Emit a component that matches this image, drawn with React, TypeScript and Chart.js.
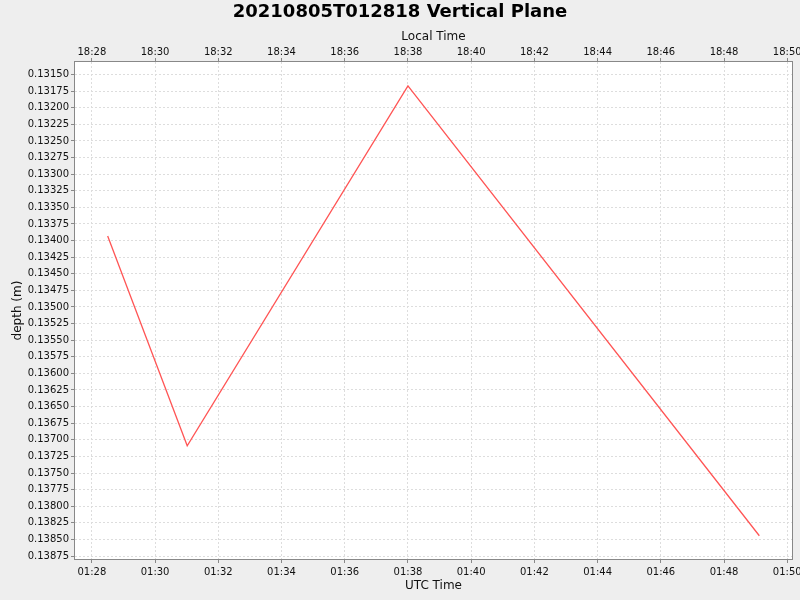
import { useEffect, useRef } from 'react';
import { Chart, registerables } from 'chart.js';

Chart.register(...registerables);

const chartTitle = '20210805T012818 Vertical Plane';
const utcTimes = ['01:28:30', '01:31:01', '01:38:00', '01:49:07'];
const depths = [0.13393, 0.13709, 0.13167, 0.138445];
const utcTicks = ['01:28', '01:30', '01:32', '01:34', '01:36', '01:38', '01:40', '01:42', '01:44', '01:46', '01:48', '01:50'];
const localTicks = ['18:28', '18:30', '18:32', '18:34', '18:36', '18:38', '18:40', '18:42', '18:44', '18:46', '18:48', '18:50'];
const depthTicks = [
  0.1315, 0.13175, 0.132, 0.13225, 0.1325, 0.13275, 0.133, 0.13325, 0.1335, 0.13375,
  0.134, 0.13425, 0.1345, 0.13475, 0.135, 0.13525, 0.1355, 0.13575, 0.136, 0.13625,
  0.1365, 0.13675, 0.137, 0.13725, 0.1375, 0.13775, 0.138, 0.13825, 0.1385, 0.13875,
];
const xMinTime = '01:27:28';
const xMaxTime = '01:50:09';
const yMin = 0.131311;
const yMax = 0.138795;

function toSec(t: string): number {
  const p = t.split(':').map(Number);
  return p[0] * 3600 + p[1] * 60 + (p[2] || 0);
}

const FONT = '"DejaVu Sans", sans-serif';

export default function App() {
  const ref = useRef<HTMLCanvasElement | null>(null);

  useEffect(() => {
    document.body.style.margin = '0';
    const canvas = ref.current;
    if (!canvas) return;

    const tickPos = utcTicks.map(toSec);

    const bgPlugin = {
      id: 'bgPlugin',
      beforeDraw(chart: any) {
        const { ctx, chartArea } = chart;
        ctx.save();
        ctx.fillStyle = '#eeeeee';
        ctx.fillRect(0, 0, chart.width, chart.height);
        ctx.fillStyle = '#ffffff';
        ctx.fillRect(chartArea.left, chartArea.top, chartArea.right - chartArea.left, chartArea.bottom - chartArea.top);
        ctx.restore();
      },
      afterDraw(chart: any) {
        const { ctx, chartArea } = chart;
        ctx.save();
        ctx.strokeStyle = '#888888';
        ctx.lineWidth = 1;
        ctx.strokeRect(chartArea.left - 0.5, chartArea.top - 0.5, chartArea.right - chartArea.left + 1, chartArea.bottom - chartArea.top + 1);
        ctx.fillStyle = '#000000';
        ctx.font = 'bold 18px ' + FONT;
        ctx.textAlign = 'center';
        ctx.textBaseline = 'middle';
        ctx.fillText(chartTitle, 400, 12);
        ctx.restore();
      },
    };

    const gridCommon = {
      color: '#dddddd',
      lineWidth: 1,
      drawTicks: true,
      tickLength: 4,
      tickColor: '#888888',
      tickBorderDash: [],
    };

    const zeroPad = (s: any) => {
      s.paddingLeft = 0;
      s.paddingRight = 0;
      s.paddingTop = 0;
      s.paddingBottom = 0;
    };

    const chart = new Chart(canvas, {
      type: 'line',
      data: {
        datasets: [
          {
            data: utcTimes.map((t, i) => ({ x: toSec(t), y: depths[i] })),
            borderColor: '#ff5555',
            borderWidth: 1.3,
            pointRadius: 0,
            fill: false,
            tension: 0,
          },
        ],
      },
      options: {
        animation: false,
        responsive: false,
        devicePixelRatio: 1,
        layout: { padding: { left: 0, right: 8, top: 0, bottom: 0 } },
        plugins: {
          legend: { display: false },
          title: { display: false },
          tooltip: { enabled: false },
        },
        scales: {
          x: {
            type: 'linear',
            position: 'bottom',
            min: toSec(xMinTime),
            max: toSec(xMaxTime),
            afterBuildTicks: (s: any) => {
              s.ticks = tickPos.map((v) => ({ value: v }));
            },
            afterFit: (s: any) => {
              s.height = 41;
              zeroPad(s);
            },
            ticks: {
              autoSkip: false,
              maxRotation: 0,
              padding: 3,
              color: '#111111',
              font: { family: FONT, size: 10 },
              callback: (v: any) => {
                const i = tickPos.indexOf(Number(v));
                return i >= 0 ? utcTicks[i] : '';
              },
            },
            grid: { ...gridCommon },
            border: { display: false, dash: [2, 2] },
            title: {
              display: true,
              text: 'UTC Time',
              color: '#111111',
              font: { family: FONT, size: 12 },
              padding: { top: 0, bottom: 7 },
            },
          },
          x2: {
            type: 'linear',
            position: 'top',
            min: toSec(xMinTime),
            max: toSec(xMaxTime),
            afterBuildTicks: (s: any) => {
              s.ticks = tickPos.map((v) => ({ value: v }));
            },
            afterFit: (s: any) => {
              s.height = 62;
              zeroPad(s);
            },
            ticks: {
              autoSkip: false,
              maxRotation: 0,
              padding: 0,
              color: '#111111',
              font: { family: FONT, size: 10 },
              callback: (v: any) => {
                const i = tickPos.indexOf(Number(v));
                return i >= 0 ? localTicks[i] : '';
              },
            },
            grid: { ...gridCommon, drawOnChartArea: false },
            border: { display: false },
            title: {
              display: true,
              text: 'Local Time',
              color: '#111111',
              font: { family: FONT, size: 12 },
              padding: { top: 30, bottom: 0 },
            },
          },
          y: {
            type: 'linear',
            reverse: true,
            min: yMin,
            max: yMax,
            afterBuildTicks: (s: any) => {
              s.ticks = depthTicks.map((v) => ({ value: v }));
            },
            afterFit: (s: any) => {
              s.width = 75;
              zeroPad(s);
            },
            ticks: {
              autoSkip: false,
              padding: 2,
              color: '#111111',
              font: { family: FONT, size: 10 },
              callback: (v: any) => Number(v).toFixed(5),
            },
            grid: { ...gridCommon },
            border: { display: false, dash: [2, 2] },
            title: {
              display: true,
              text: 'depth (m)',
              color: '#111111',
              font: { family: FONT, size: 12 },
              padding: { top: 11, bottom: 0 },
            },
          },
        },
      },
      plugins: [bgPlugin],
    } as any);

    return () => {
      chart.destroy();
    };
  }, []);

  return (
    <div style={{ width: 800, height: 600 }}>
      <canvas ref={ref} width={800} height={600} />
    </div>
  );
}
